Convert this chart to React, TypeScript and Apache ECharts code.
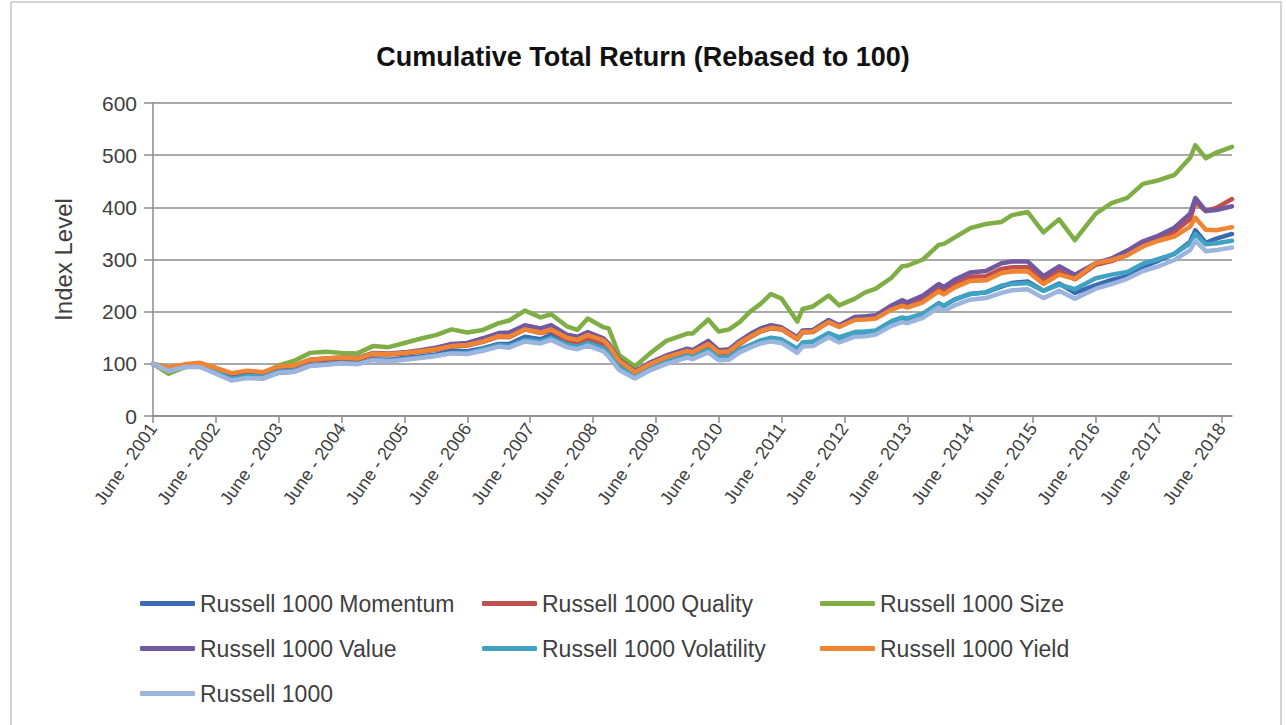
import React, { useEffect, useRef } from "react";
import * as echarts from "echarts";

const TITLE = "Cumulative Total Return (Rebased to 100)";
const Y_NAME = "Index Level";
const Y_MIN = 0;
const Y_MAX = 600;
const Y_STEP = 100;
const FIRST_MONTH = "2001-06";
const LAST_MONTH = "2018-08";
const TICK_MONTH = "06";
const TICK_PREFIX = "June - ";

const DATES = [
  "2001-06", "2001-09", "2001-12", "2002-03", "2002-06", "2002-09", "2002-12", "2003-03", "2003-06", "2003-09",
  "2003-12", "2004-03", "2004-06", "2004-09", "2004-12", "2005-03", "2005-06", "2005-09", "2005-12", "2006-03",
  "2006-06", "2006-09", "2006-12", "2007-02", "2007-05", "2007-08", "2007-10", "2008-01", "2008-03", "2008-05",
  "2008-08", "2008-09", "2008-11", "2009-02", "2009-05", "2009-08", "2009-12", "2010-01", "2010-04", "2010-06",
  "2010-08", "2010-10", "2010-12", "2011-02", "2011-04", "2011-06", "2011-09", "2011-10", "2011-12", "2012-03",
  "2012-05", "2012-08", "2012-10", "2012-12", "2013-03", "2013-05", "2013-06", "2013-09", "2013-12", "2014-01",
  "2014-03", "2014-06", "2014-09", "2014-12", "2015-02", "2015-05", "2015-08", "2015-11", "2016-02", "2016-06",
  "2016-09", "2016-12", "2017-03", "2017-06", "2017-09", "2017-12", "2018-01", "2018-03", "2018-05", "2018-08",
];

const MOMENTUM = [
  100, 87, 95, 96, 83, 69, 74, 72, 83, 85,
  97, 99, 102, 100, 109, 108, 111, 114, 118, 125,
  124, 130, 138, 138, 152, 147, 156, 143, 138, 146,
  133, 121, 92, 76, 90, 101, 114, 111, 124, 109,
  110, 124, 135, 143, 147, 144, 125, 137, 138, 156,
  145, 157, 158, 161, 180, 187, 185, 196, 216, 211,
  223, 234, 237, 248, 255, 258, 240, 254, 236, 251,
  261, 268, 286, 298, 311, 334, 356, 332, 340, 349,
];

const QUALITY = [
  100, 92, 97, 100, 90, 80, 85, 82, 93, 95,
  106, 108, 110, 108, 118, 118, 120, 123, 127, 133,
  135, 142, 152, 151, 166, 159, 164, 146, 141, 149,
  139, 129, 102, 81, 97, 110, 122, 119, 136, 120,
  122, 138, 151, 162, 168, 166, 147, 160, 161, 180,
  171, 185, 187, 189, 208, 216, 213, 224, 246, 240,
  253, 267, 268, 282, 285, 285, 260, 278, 262, 290,
  297, 309, 330, 342, 353, 377, 410, 393, 399, 416,
];

const SIZE = [
  100, 81, 93, 100, 92, 77, 83, 82, 97, 106,
  121, 123, 121, 120, 134, 132, 140, 148, 155, 166,
  160, 165, 178, 183, 202, 189, 195, 172, 165, 187,
  170, 168, 117, 95, 121, 144, 158, 158, 185, 162,
  166, 180, 200, 215, 234, 225, 181, 205, 210, 231,
  212, 225, 237, 244, 265, 287, 288, 300, 328, 330,
  342, 360, 368, 372, 385, 391, 352, 377, 337, 388,
  408, 418, 445, 452, 462, 495, 519, 494, 505, 516,
];

const VALUE = [
  100, 92, 98, 101, 91, 80, 85, 82, 94, 96,
  108, 110, 112, 111, 121, 120, 122, 126, 131, 138,
  140, 149, 159, 160, 174, 168, 174, 156, 152, 161,
  149, 139, 108, 86, 103, 116, 129, 126, 144, 126,
  128, 144, 157, 168, 174, 170, 151, 164, 165, 184,
  174, 190, 191, 193, 212, 222, 218, 231, 253, 247,
  261, 275, 278, 293, 296, 296, 268, 287, 271, 293,
  302, 317, 335, 346, 361, 388, 418, 393, 395, 402,
];

const VOLATILITY = [
  100, 88, 96, 97, 84, 71, 77, 75, 85, 87,
  97, 99, 102, 100, 108, 106, 109, 112, 116, 121,
  121, 128, 136, 134, 146, 143, 150, 137, 133, 140,
  130, 120, 94, 78, 92, 104, 116, 113, 127, 112,
  113, 128, 136, 145, 150, 147, 129, 141, 143, 159,
  151, 161, 162, 164, 182, 189, 187, 196, 216, 211,
  223, 234, 237, 250, 253, 255, 240, 252, 243, 264,
  271, 276, 292, 301, 311, 331, 349, 329, 331, 336,
];

const YIELD = [
  100, 93, 99, 102, 92, 82, 87, 84, 95, 97,
  108, 110, 112, 110, 120, 119, 121, 124, 128, 134,
  136, 143, 153, 152, 166, 160, 166, 150, 146, 155,
  145, 135, 106, 84, 100, 113, 125, 122, 138, 122,
  124, 140, 152, 163, 169, 167, 148, 161, 162, 180,
  171, 184, 185, 187, 204, 211, 208, 218, 239, 233,
  246, 259, 260, 274, 277, 277, 253, 271, 263, 293,
  299, 308, 325, 336, 344, 363, 380, 357, 356, 362,
];

const RUSSELL_1000 = [
  100, 86, 94, 94, 81, 68, 73, 72, 83, 85,
  96, 98, 101, 99, 107, 105, 108, 111, 115, 120,
  119, 125, 133, 131, 143, 139, 146, 132, 128, 135,
  124, 114, 88, 72, 88, 100, 112, 109, 122, 107,
  108, 122, 131, 139, 143, 140, 121, 133, 134, 151,
  141, 152, 153, 156, 173, 180, 178, 188, 208, 201,
  212, 223, 226, 236, 241, 243, 226, 240, 225, 244,
  253, 263, 278, 287, 299, 318, 336, 316, 318, 323,
];

const SERIES_NAMES = [
  "Russell 1000 Momentum",
  "Russell 1000 Quality",
  "Russell 1000 Size",
  "Russell 1000 Value",
  "Russell 1000 Volatility",
  "Russell 1000 Yield",
  "Russell 1000",
];
const SERIES_VALUES = [MOMENTUM, QUALITY, SIZE, VALUE, VOLATILITY, YIELD, RUSSELL_1000];
const SERIES_COLORS = ["#3A6BB2", "#C0504D", "#7FAE45", "#7158A0", "#3FA2C2", "#EF8533", "#9CB5DE"];

const LEGEND_COLUMNS = [
  ["Russell 1000 Momentum", "Russell 1000 Value", "Russell 1000"],
  ["Russell 1000 Quality", "Russell 1000 Volatility"],
  ["Russell 1000 Size", "Russell 1000 Yield"],
];

const FONT = "'Liberation Sans', Arial, sans-serif";
const TEXT_COLOR = "#404040";
const GRID_COLOR = "#8c8c8c";

function monthList(first: string, last: string): string[] {
  const out: string[] = [];
  let y = parseInt(first.slice(0, 4), 10);
  let m = parseInt(first.slice(5, 7), 10);
  const ly = parseInt(last.slice(0, 4), 10);
  const lm = parseInt(last.slice(5, 7), 10);
  while (y < ly || (y === ly && m <= lm)) {
    out.push(`${y}-${m < 10 ? "0" + m : m}`);
    m += 1;
    if (m > 12) {
      m = 1;
      y += 1;
    }
  }
  return out;
}

export default function App() {
  const ref = useRef<HTMLDivElement>(null);

  useEffect(() => {
    if (!ref.current) return;
    const chart = echarts.init(ref.current, undefined, { renderer: "svg" });
    const categories = monthList(FIRST_MONTH, LAST_MONTH);
    const isTick = (_i: number, v: string) => v.slice(5, 7) === TICK_MONTH;

    const legendLefts = [140, 482, 820];

    chart.setOption({
      animation: false,
      backgroundColor: "#ffffff",
      title: {
        text: TITLE,
        left: "center",
        top: 38,
        textStyle: { fontFamily: FONT, fontSize: 27, fontWeight: "bold", color: "#111111" },
      },
      graphic: [
        {
          type: "rect",
          shape: { x: 11, y: 2, width: 1270, height: 740 },
          style: { fill: "none", stroke: "#c6c6c6", lineWidth: 1.5 },
          silent: true,
        },
      ],
      legend: LEGEND_COLUMNS.map((col, i) => ({
        data: col,
        orient: "vertical",
        left: legendLefts[i],
        top: 592,
        padding: 0,
        itemGap: 22,
        icon: "roundRect",
        itemWidth: 55,
        itemHeight: 5,
        selectedMode: false,
        textStyle: { fontFamily: FONT, fontSize: 23, color: TEXT_COLOR },
      })),
      grid: { left: 153, top: 103, width: 1079, height: 313, containLabel: false },
      xAxis: {
        type: "category",
        data: categories,
        boundaryGap: false,
        axisLine: { lineStyle: { color: GRID_COLOR, width: 1.5 } },
        axisTick: { interval: isTick, length: 7, lineStyle: { color: GRID_COLOR, width: 1.5 } },
        axisLabel: {
          interval: isTick,
          rotate: 55,
          margin: 9,
          fontFamily: FONT,
          fontSize: 18,
          color: TEXT_COLOR,
          formatter: (v: string) => TICK_PREFIX + v.slice(0, 4),
        },
        splitLine: { show: false },
      },
      yAxis: {
        type: "value",
        min: Y_MIN,
        max: Y_MAX,
        interval: Y_STEP,
        name: Y_NAME,
        nameLocation: "middle",
        nameGap: 78,
        nameTextStyle: { fontFamily: FONT, fontSize: 24, color: TEXT_COLOR },
        axisLine: { show: true, lineStyle: { color: GRID_COLOR, width: 1.5 } },
        axisTick: { show: true, length: 9, lineStyle: { color: GRID_COLOR, width: 1.5 } },
        axisLabel: { margin: 16, fontFamily: FONT, fontSize: 21, color: TEXT_COLOR },
        splitLine: { lineStyle: { color: GRID_COLOR, width: 1.5 } },
      },
      series: SERIES_NAMES.map((name, si) => ({
        name,
        type: "line",
        showSymbol: false,
        symbol: "none",
        color: SERIES_COLORS[si],
        lineStyle: { width: 4.5, color: SERIES_COLORS[si], cap: "round", join: "round" },
        data: DATES.map((d, i) => [categories.indexOf(d), SERIES_VALUES[si][i]]),
      })),
    });

    return () => chart.dispose();
  }, []);

  return (
    <div
      ref={ref}
      style={{ position: "fixed", left: 0, top: 0, width: 1286, height: 725, background: "#fff" }}
    />
  );
}
